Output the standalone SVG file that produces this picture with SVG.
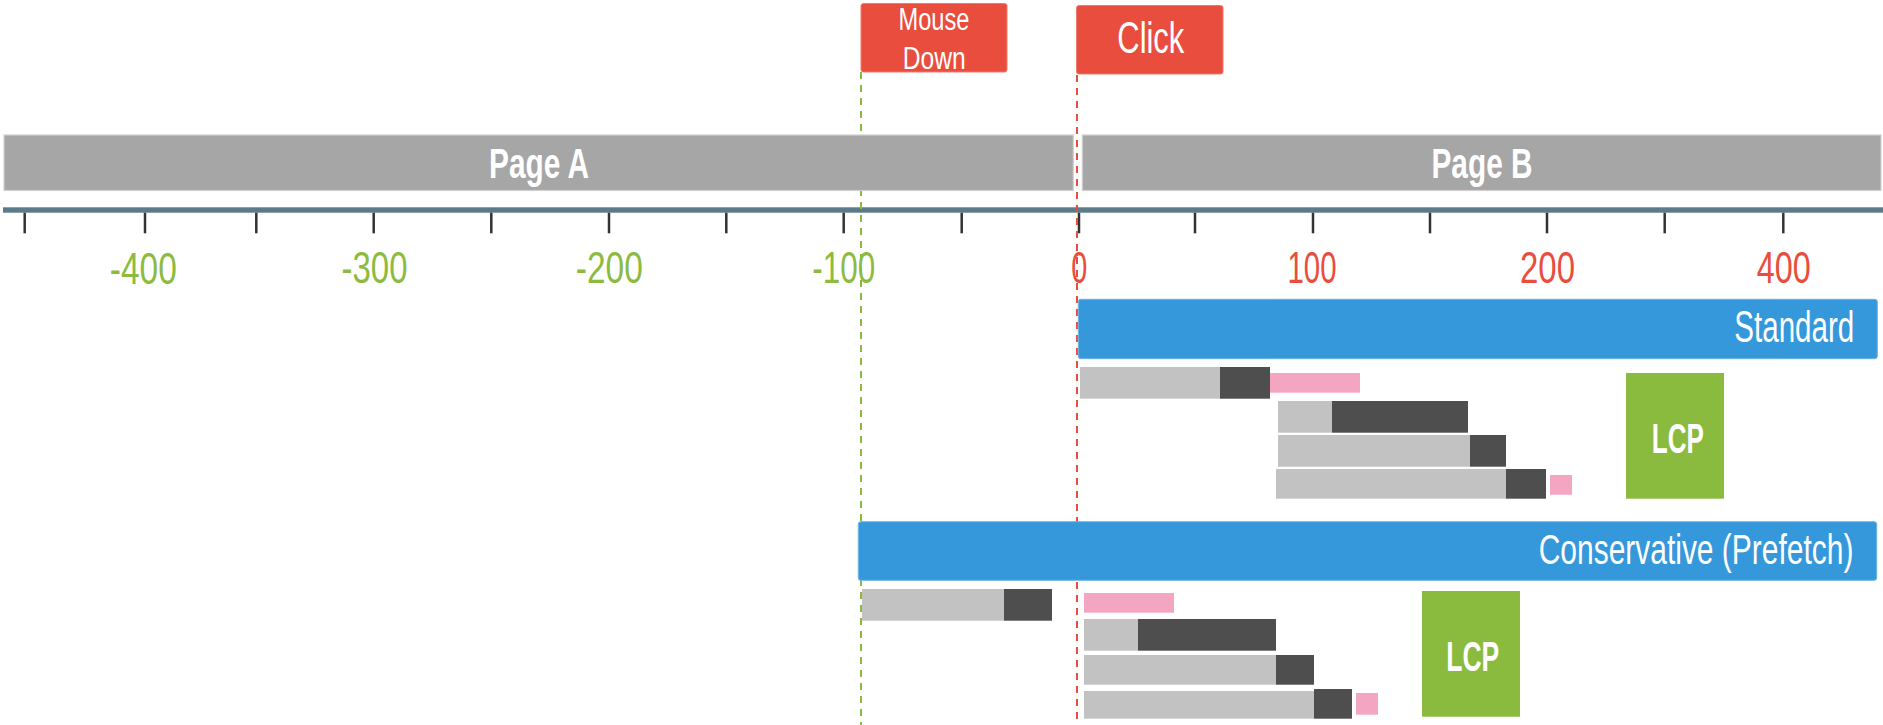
<svg xmlns="http://www.w3.org/2000/svg" width="1883" height="725" viewBox="0 0 1883 725">
<style>
text{font-family:"Liberation Sans Narrow","Liberation Sans",Arial,sans-serif;}
.evt{fill:#e84d3d;stroke:#ee7a6c;stroke-width:1;}
.evtt{fill:#ffffff;text-anchor:middle;}
.page{fill:#a6a6a6;stroke:#d0d0d0;stroke-width:1.2;}
.paget{fill:#ffffff;font-weight:bold;text-anchor:middle;font-size:43px;}
.tick{stroke:#333333;stroke-width:2.5;}
.neg{fill:#8cbb3f;font-size:45px;text-anchor:middle;}
.pos{fill:#e84d3d;font-size:45px;text-anchor:middle;}
.mode{fill:#3598db;stroke:#6cb3e6;stroke-width:1;}
.modet{fill:#ffffff;font-family:"Liberation Sans",Arial,sans-serif;}
.lg{fill:#c2c2c2;}
.dk{fill:#4e4e4e;}
.pk{fill:#f4a5c1;}
.lcp{fill:#8aba3e;}
.lcpt{fill:#ffffff;font-weight:bold;text-anchor:middle;font-size:42px;}
</style>

<!-- axis -->
<g id="axis">
<rect x="3" y="207.3" width="1880" height="5.4" fill="#5c7a89"/>
<g class="tick">
<line x1="24.7" y1="212.7" x2="24.7" y2="233.3"/>
<line x1="145" y1="212.7" x2="145" y2="233.3"/>
<line x1="256.3" y1="212.7" x2="256.3" y2="233.3"/>
<line x1="373.7" y1="212.7" x2="373.7" y2="233.3"/>
<line x1="491.3" y1="212.7" x2="491.3" y2="233.3"/>
<line x1="609" y1="212.7" x2="609" y2="233.3"/>
<line x1="726.3" y1="212.7" x2="726.3" y2="233.3"/>
<line x1="843.7" y1="212.7" x2="843.7" y2="233.3"/>
<line x1="961.7" y1="212.7" x2="961.7" y2="233.3"/>
<line x1="1079" y1="212.7" x2="1079" y2="233.3"/>
<line x1="1195" y1="212.7" x2="1195" y2="233.3"/>
<line x1="1313" y1="212.7" x2="1313" y2="233.3"/>
<line x1="1430" y1="212.7" x2="1430" y2="233.3"/>
<line x1="1547" y1="212.7" x2="1547" y2="233.3"/>
<line x1="1664.7" y1="212.7" x2="1664.7" y2="233.3"/>
<line x1="1783.3" y1="212.7" x2="1783.3" y2="233.3"/>
</g>
<text class="neg" x="143.3" y="283.5" textLength="67" lengthAdjust="spacingAndGlyphs">-400</text>
<text class="neg" x="374.5" y="282.5" textLength="66" lengthAdjust="spacingAndGlyphs">-300</text>
<text class="neg" x="609.3" y="282.5" textLength="67" lengthAdjust="spacingAndGlyphs">-200</text>
<text class="neg" x="843.7" y="282.5" textLength="63" lengthAdjust="spacingAndGlyphs">-100</text>
<text class="pos" x="1079.3" y="282.5" textLength="16" lengthAdjust="spacingAndGlyphs">0</text>
<text class="pos" x="1312" y="282.5" textLength="49" lengthAdjust="spacingAndGlyphs">100</text>
<text class="pos" x="1547.5" y="282.5" textLength="55" lengthAdjust="spacingAndGlyphs">200</text>
<text class="pos" x="1783.8" y="282.5" textLength="54" lengthAdjust="spacingAndGlyphs">400</text>
</g>

<!-- connectors -->
<g id="connectors" fill="none" stroke-width="2" stroke-dasharray="7,6">
<line id="mousedown-line" x1="861" y1="72" x2="861" y2="725" stroke="#8aba3e"/>
<line id="click-line" x1="1077" y1="75" x2="1077" y2="725" stroke="#e84d3d"/>
</g>

<g id="mouse-down">
<rect class="evt" x="861" y="3.5" width="146" height="68.5" rx="2.5"/>
<text class="evtt" x="934" y="29.5" font-size="31" textLength="71" lengthAdjust="spacingAndGlyphs">Mouse</text>
<text class="evtt" x="934.3" y="69" font-size="31" textLength="63" lengthAdjust="spacingAndGlyphs">Down</text>
</g>

<g id="click">
<rect class="evt" x="1076.5" y="5.5" width="146.5" height="68.5" rx="2.5"/>
<text class="evtt" x="1150.8" y="53" font-size="44" textLength="67" lengthAdjust="spacingAndGlyphs">Click</text>
</g>

<g id="page-a">
<rect class="page" x="4" y="135" width="1069.3" height="55.5"/>
<text class="paget" x="539" y="178.3" textLength="100" lengthAdjust="spacingAndGlyphs">Page A</text>
</g>

<g id="page-b">
<rect class="page" x="1082.3" y="135" width="798.7" height="55.5"/>
<text class="paget" x="1482" y="178.3" textLength="101" lengthAdjust="spacingAndGlyphs">Page B</text>
</g>

<g id="standard">
<rect class="mode" x="1078.3" y="299.3" width="799" height="59.4" rx="2.5"/>
<text class="modet" font-size="44" transform="translate(1734.3,342) scale(0.672,1)">Standard</text>
</g>

<g id="standard-resources">
<rect class="lg" x="1080" y="367" width="140" height="31.7"/>
<rect class="dk" x="1220" y="367" width="50" height="31.7"/>
<rect class="pk" x="1270" y="373" width="90" height="19.7"/>
<rect class="lg" x="1278" y="401" width="54" height="31.7"/>
<rect class="dk" x="1332" y="401" width="136" height="31.7"/>
<rect class="lg" x="1278" y="435" width="192" height="31.7"/>
<rect class="dk" x="1470" y="435" width="36" height="31.7"/>
<rect class="lg" x="1276" y="469" width="230" height="29.7"/>
<rect class="dk" x="1506" y="469" width="40" height="29.7"/>
<rect class="pk" x="1550" y="475" width="22" height="19.7"/>
</g>

<g id="standard-lcp">
<rect class="lcp" x="1626" y="373" width="98" height="125.7"/>
<text class="lcpt" x="1677.8" y="452.7" textLength="52" lengthAdjust="spacingAndGlyphs">LCP</text>
</g>

<g id="conservative">
<rect class="mode" x="858.3" y="521.7" width="1018.4" height="58.6" rx="2.5"/>
<text class="modet" font-size="43" transform="translate(1538.7,564.3) scale(0.697,1)">Conservative (Prefetch)</text>
</g>

<g id="conservative-resources">
<rect class="lg" x="862" y="589" width="142" height="31.7"/>
<rect class="dk" x="1004" y="589" width="48" height="31.7"/>
<rect class="pk" x="1084" y="593" width="90" height="19.7"/>
<rect class="lg" x="1084" y="619" width="54" height="31.7"/>
<rect class="dk" x="1138" y="619" width="138" height="31.7"/>
<rect class="lg" x="1084" y="655" width="192" height="29.7"/>
<rect class="dk" x="1276" y="655" width="38" height="29.7"/>
<rect class="lg" x="1084" y="691" width="230" height="27.7"/>
<rect class="dk" x="1314" y="689" width="38" height="29.7"/>
<rect class="pk" x="1356" y="693" width="22" height="21.7"/>
</g>

<g id="conservative-lcp">
<rect class="lcp" x="1422" y="591" width="98" height="125.7"/>
<text class="lcpt" x="1472.7" y="671.3" textLength="53" lengthAdjust="spacingAndGlyphs">LCP</text>
</g>
</svg>
